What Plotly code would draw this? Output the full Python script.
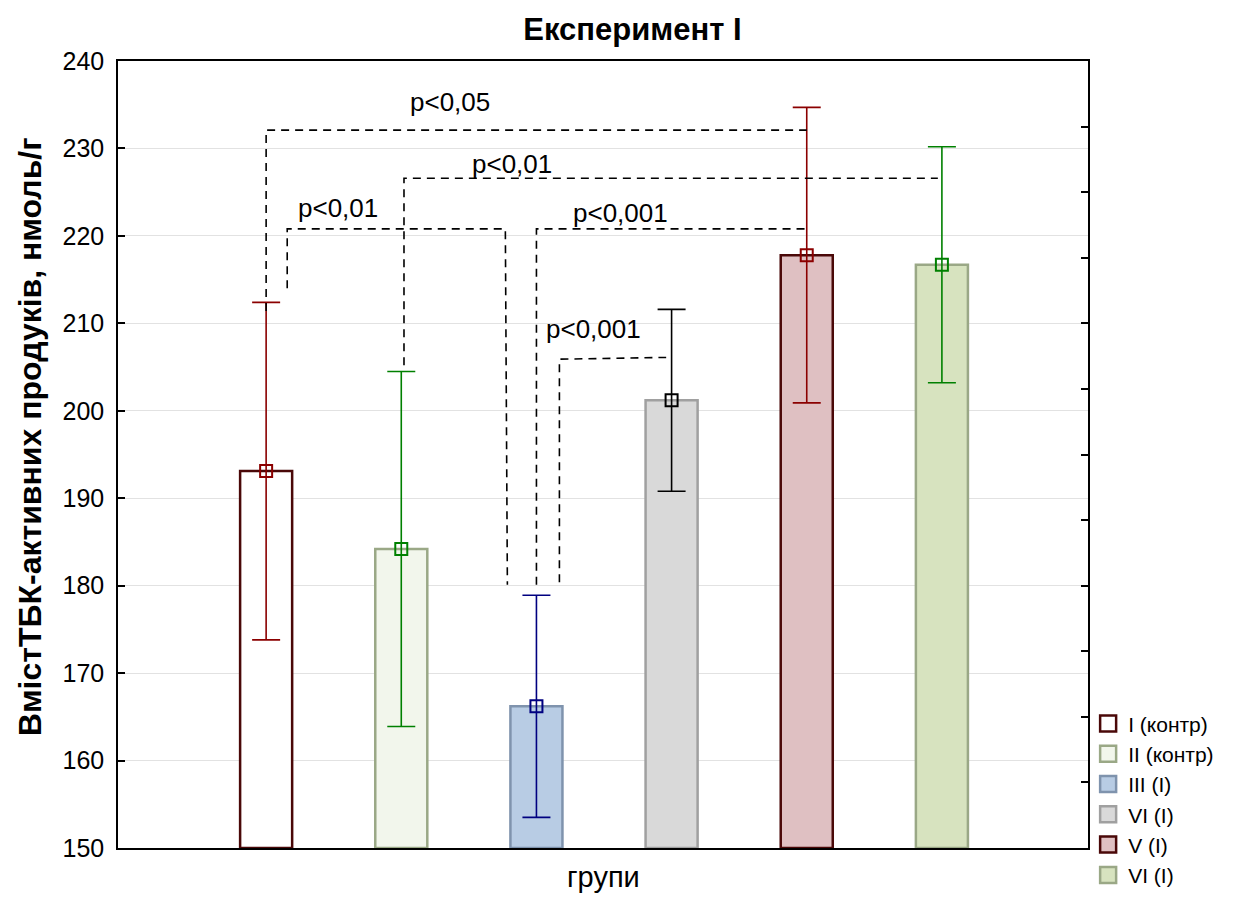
import plotly.graph_objects as go

groups = ["I (контр)", "II (контр)", "III (I)", "VI (I)", "V (I)", "VI (I)"]
means = [193.1, 184.2, 166.2, 201.2, 217.8, 216.7]
errors = [19.3, 20.3, 12.7, 10.4, 16.9, 13.5]
fill_colors = ["#ffffff", "#f2f6ec", "#b8cce4", "#d9d9d9", "#dfc0c2", "#d7e3bf"]
edge_colors = ["#4a0808", "#9aa886", "#7f93ad", "#a0a0a0", "#4a0808", "#9aa886"]
err_colors = ["#8b0000", "#008000", "#000080", "#000000", "#8b0000", "#008000"]

# significance brackets (category position, value) and label placement
br_labels = ["p<0,05", "p<0,01", "p<0,01", "p<0,001", "p<0,001"]
br_xs = [[0, 0, 4], [1.02, 1.02, 4.97], [0.156, 0.156, 1.77, 1.785], [2.0, 2.0, 4.0], [2.17, 2.17, 2.96]]
br_ys = [[211.4, 232.1, 232.1], [205.2, 226.6, 226.6], [214.0, 220.8, 220.8, 180.1],
         [180.1, 220.8, 220.8], [180.4, 205.9, 206.1]]
lab_x = [1.36, 1.82, 0.53, 2.62, 2.42]
lab_y = [235.3, 228.2, 223.2, 222.6, 209.3]

FONT = "Liberation Sans, Arial, sans-serif"
fig = go.Figure()

for i, g in enumerate(groups):
    fig.add_trace(go.Bar(
        x=[i], y=[means[i] - 150], base=150, width=0.385, name=g,
        marker=dict(color=fill_colors[i], line=dict(color=edge_colors[i], width=2.5)),
        error_y=dict(type="data", array=[errors[i]], color=err_colors[i], thickness=1.6, width=14),
        showlegend=False, hoverinfo="skip",
    ))
    fig.add_trace(go.Scatter(
        x=[i], y=[means[i]], mode="markers",
        marker=dict(symbol="square-open", size=12, color=err_colors[i], line=dict(width=2)),
        showlegend=False, hoverinfo="skip",
    ))

# legend entries
for i, g in enumerate(groups):
    fig.add_trace(go.Scatter(
        x=[None], y=[None], mode="markers", name=g,
        marker=dict(symbol="square", size=16, color=fill_colors[i],
                    line=dict(color=edge_colors[i], width=2.5)),
        showlegend=True, hoverinfo="skip",
    ))

for k in range(len(br_labels)):
    fig.add_trace(go.Scatter(
        x=br_xs[k], y=br_ys[k], mode="lines",
        line=dict(color="black", width=1.6, dash="8px,6px"),
        showlegend=False, hoverinfo="skip",
    ))
    fig.add_annotation(x=lab_x[k], y=lab_y[k], xref="x", yref="y", text=br_labels[k],
                       showarrow=False, font=dict(family=FONT, size=26, color="black"))

# invisible trace to attach the right axis
fig.add_trace(go.Scatter(x=[0], y=[150], yaxis="y2", mode="markers",
                         marker=dict(opacity=0), showlegend=False, hoverinfo="skip"))

fig.add_annotation(x=-0.0907, y=0.522, xref="paper", yref="paper", textangle=-90,
                   xanchor="center", yanchor="middle",
                   text="<b>ВмістТБК-активних продуків, нмоль/г</b>", showarrow=False,
                   font=dict(family="Liberation Sans Narrow, Arial Narrow, Liberation Sans, Arial",
                             size=32, color="black"))
fig.add_annotation(x=0.5, y=-0.037, xref="paper", yref="paper", xanchor="center", yanchor="middle",
                   text="групи", showarrow=False, font=dict(family=FONT, size=29, color="black"))

fig.update_layout(
    width=1245, height=897,
    margin=dict(l=118, r=157, t=61, b=49),
    paper_bgcolor="white", plot_bgcolor="white",
    barmode="overlay",
    title=dict(text="<b>Експеримент I</b>", x=0.508, xanchor="center", y=0.968, yanchor="middle",
               font=dict(family=FONT, size=31, color="black")),
    font=dict(family=FONT, color="black"),
    xaxis=dict(range=[-1.096, 6.081], showticklabels=False, ticks="", showgrid=False,
               zeroline=False, showline=True, linecolor="black", linewidth=1.5, mirror=True,
               automargin=False),
    yaxis=dict(range=[150, 240], tick0=150, dtick=10, ticks="inside", ticklen=7, tickwidth=1.5,
               tickcolor="black", showline=True, linecolor="black", linewidth=1.5, mirror=True,
               showgrid=True, gridcolor="#e2e2e2", gridwidth=1, zeroline=False,
               tickfont=dict(family=FONT, size=25), ticklabelstandoff=7, automargin=False),
    yaxis2=dict(range=[150, 240], overlaying="y", side="right", tick0=150, dtick=7.5,
                ticks="inside", ticklen=7, tickwidth=1.5, tickcolor="black",
                showticklabels=False, showgrid=False, zeroline=False, showline=True,
                linecolor="black", linewidth=1.5, automargin=False),
    legend=dict(x=0.874, y=0.216, xref="container", yref="container", xanchor="left", yanchor="top",
                bgcolor="rgba(0,0,0,0)", font=dict(family=FONT, size=21), tracegroupgap=0,
                borderwidth=0, itemwidth=30),
)

fig.write_html("out.html")
